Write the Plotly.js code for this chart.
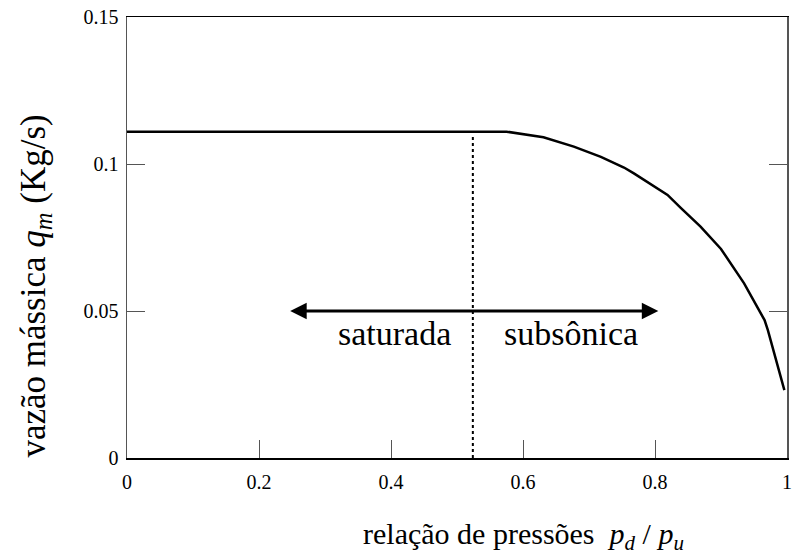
<!DOCTYPE html>
<html>
<head>
<meta charset="utf-8">
<script src="https://cdn.plot.ly/plotly-3.0.1.min.js"></script>
<style>html,body{margin:0;padding:0;background:#fff;}#chart{width:794px;height:555px;}</style>
</head>
<body>
<div id="chart"></div>
<script>
// Curve: mass flow vs pressure ratio
const pressureRatio = [0, 0.575, 0.631, 0.677, 0.718, 0.753, 0.768, 0.819, 0.839, 0.869, 0.900, 0.935, 0.966, 0.971, 0.996];
const massFlow      = [0.111, 0.111, 0.1091, 0.1059, 0.1024, 0.0988, 0.0968, 0.0895, 0.0851, 0.0787, 0.0711, 0.0594, 0.0469, 0.0435, 0.0231];
// Critical ratio (dotted line)
const criticalX = [0.524, 0.524];
const criticalY = [0, 0.110];
// Double arrow
const arrowX = [0.245, 0.805];
const arrowY = [0.05, 0.05];
// Region labels
const regionLabels = ["saturada", "subsônica"];
const regionLabelX = [0.406, 0.672];
const regionLabelY = [0.0425, 0.0425];
// Ticks
const xTickVals = [0, 0.2, 0.4, 0.6, 0.8, 1];
const xTickText = ["0", "0.2", "0.4", "0.6", "0.8", "1"];
const yTickVals = [0, 0.05, 0.1, 0.15];
const yTickText = ["0", "0.05", "0.1", "0.15"];

const serif = 'Liberation Serif';
const tickFont = {family: 'Liberation Serif', size: 20, color: '#000'};

const traces = [
  {x: pressureRatio, y: massFlow, mode: 'lines', line: {color: '#000', width: 2.5}, hoverinfo: 'skip', showlegend: false},
  {x: criticalX, y: criticalY, mode: 'lines', line: {color: '#000', width: 2, dash: 'dot'}, hoverinfo: 'skip', showlegend: false}
];

const annotations = [
  {x: arrowX[1], y: arrowY[1], ax: arrowX[0], ay: arrowY[0], xref: 'x', yref: 'y', axref: 'x', ayref: 'y',
   text: '', showarrow: true, arrowhead: 2, startarrowhead: 2, arrowside: 'end+start', arrowwidth: 3, arrowsize: 1.1, startarrowsize: 1.1, arrowcolor: '#000'},
  {x: regionLabelX[0], y: regionLabelY[0], xref: 'x', yref: 'y', text: regionLabels[0], showarrow: false, font: {family: serif, size: 34, color: '#000'}},
  {x: regionLabelX[1], y: regionLabelY[1], xref: 'x', yref: 'y', text: regionLabels[1], showarrow: false, font: {family: serif, size: 34, color: '#000'}},
  {x: 0.6, y: -0.178, xref: 'paper', yref: 'paper', xanchor: 'center', yanchor: 'middle', showarrow: false,
   text: 'relação de pressões&nbsp; <i>p<sub>d</sub></i> / <i>p<sub>u</sub></i>', font: {family: serif, size: 30, color: '#000'}},
  {x: -0.14, y: 0.39, xref: 'paper', yref: 'paper', xanchor: 'center', yanchor: 'middle', showarrow: false, textangle: -90,
   text: 'vazão mássica <i>q<sub>m</sub></i> (Kg/s)', font: {family: serif, size: 35, color: '#000'}}
];

const layout = {
  width: 794, height: 555,
  margin: {l: 127, r: 7, t: 17, b: 97},
  paper_bgcolor: '#fff', plot_bgcolor: '#fff',
  font: {family: serif, size: 20, color: '#000'},
  xaxis: {range: [0, 1], tickmode: 'array', tickvals: xTickVals, ticktext: xTickText, showticklabels: true, showgrid: false, zeroline: false,
          showline: true, linecolor: '#000', linewidth: 1.5, mirror: true, tickfont: tickFont,
          ticks: 'inside', ticklen: 18, tickcolor: '#555', tickwidth: 1, ticklabelstandoff: 5},
  yaxis: {range: [0, 0.15], tickmode: 'array', tickvals: yTickVals, ticktext: yTickText, showticklabels: true, showgrid: false, zeroline: false,
          showline: true, linecolor: '#555', linewidth: 1.5, mirror: 'ticks', tickfont: tickFont,
          ticks: 'inside', ticklen: 18, tickcolor: '#555', tickwidth: 1, ticklabelstandoff: 3},
  annotations: annotations,
  showlegend: false
};

Plotly.newPlot('chart', traces, layout, {displayModeBar: false, staticPlot: true});
</script>
</body>
</html>
